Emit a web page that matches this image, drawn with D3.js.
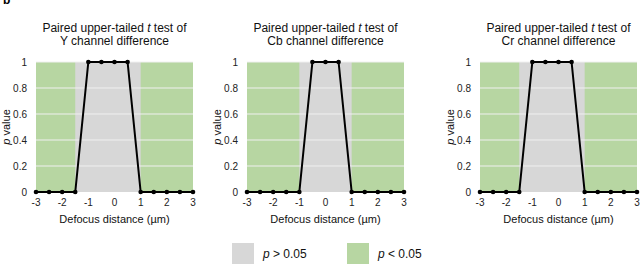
<!DOCTYPE html>
<html><head><meta charset="utf-8">
<script src="https://cdn.jsdelivr.net/npm/d3@7"></script>
<style>body{margin:0;background:#fff}svg{display:block;font-family:"Liberation Sans",Arial,sans-serif}</style>
</head><body><svg id="c" width="640" height="265"></svg>
<script>
const xs = [-3,-2.5,-2,-1.5,-1,-0.5,0,0.5,1,1.5,2,2.5,3];
const yVals = [0,0,0,0,1,1,1,1,0,0,0,0,0];
const cbVals = [0,0,0,0,0,1,1,1,0,0,0,0,0];
const crVals = [0,0,0,0,1,1,1,1,0,0,0,0,0];
const greenLeft = [-1.5,-1,-1.5];   // green (p<0.05) from -3 up to this value
const greenRight = [1,1,1];         // green from this value up to 3
const channels = ["Y","Cb","Cr"];
const xTicks = [-3,-2,-1,0,1,2,3];
const yTicks = [0,0.2,0.4,0.6,0.8,1];
const legendLabels = ["> 0.05","< 0.05"];

const series = [yVals,cbVals,crVals];
const GRAY="#d7d7d7", GREEN="#b7d6a2";
const svg = d3.select("#c");
const pLeft = [36,247,480], pWidth = 157, pTop = 62, pBottom = 192;

svg.append("text").attr("x",3).attr("y",4).attr("font-weight","bold").attr("font-size",12).text("b");

series.forEach((vals,i)=>{
  const x = d3.scaleLinear().domain([-3,3]).range([pLeft[i],pLeft[i]+pWidth]);
  const y = d3.scaleLinear().domain([0,1]).range([pBottom,pTop]);
  const g = svg.append("g");
  g.append("rect").attr("x",x(-3)).attr("y",y(1)).attr("width",x(3)-x(-3)).attr("height",y(0)-y(1)).attr("fill",GRAY);
  g.append("rect").attr("x",x(-3)).attr("y",y(1)).attr("width",x(greenLeft[i])-x(-3)).attr("height",y(0)-y(1)).attr("fill",GREEN);
  g.append("rect").attr("x",x(greenRight[i])).attr("y",y(1)).attr("width",x(3)-x(greenRight[i])).attr("height",y(0)-y(1)).attr("fill",GREEN);
  g.selectAll(".grid").data(yTicks.filter(t=>t>0)).join("line")
    .attr("x1",x(-3)).attr("x2",x(3)).attr("y1",d=>y(d)).attr("y2",d=>y(d))
    .attr("stroke","#f0f0f0").attr("stroke-width",1);
  g.selectAll(".yl").data(yTicks).join("text")
    .attr("x",pLeft[i]-9).attr("y",d=>y(d)).attr("dy","0.35em").attr("text-anchor","end")
    .attr("font-size",10).attr("fill","#222").text(d=>d3.format("~g")(d));
  g.selectAll(".xl").data(xTicks).join("text")
    .attr("x",d=>x(d)).attr("y",pBottom+14).attr("text-anchor","middle")
    .attr("font-size",10).attr("fill","#222").text(d=>d);
  const data = xs.map((d,k)=>[d,vals[k]]);
  g.append("path").datum(data).attr("fill","none").attr("stroke","#000").attr("stroke-width",2)
    .attr("d",d3.line().x(d=>x(d[0])).y(d=>y(d[1])));
  g.selectAll(".pt").data(data).join("circle").attr("cx",d=>x(d[0])).attr("cy",d=>y(d[1])).attr("r",2.3).attr("fill","#000");
  const cx = pLeft[i]+pWidth/2;
  const t1 = g.append("text").attr("x",cx).attr("y",32).attr("text-anchor","middle").attr("font-size",12).attr("fill","#111");
  t1.append("tspan").text("Paired upper-tailed ");
  t1.append("tspan").attr("font-style","italic").text("t");
  t1.append("tspan").text(" test of");
  g.append("text").attr("x",cx).attr("y",45).attr("text-anchor","middle").attr("font-size",12).attr("fill","#111")
    .text(channels[i]+" channel difference");
  g.append("text").attr("x",cx).attr("y",223).attr("text-anchor","middle").attr("font-size",11).attr("fill","#111").text("Defocus distance (µm)");
  const yl = g.append("text").attr("transform",`translate(${pLeft[i]-26},${(pTop+pBottom)/2}) rotate(-90)`)
    .attr("text-anchor","middle").attr("font-size",11).attr("fill","#111");
  yl.append("tspan").attr("font-style","italic").text("p");
  yl.append("tspan").text(" value");
});

const lx = [232,347], cols=[GRAY,GREEN];
lx.forEach((xx,i)=>{
  svg.append("rect").attr("x",xx).attr("y",243).attr("width",22).attr("height",21).attr("fill",cols[i]);
  const t = svg.append("text").attr("x",xx+31).attr("y",258).attr("font-size",12).attr("fill","#111");
  t.append("tspan").attr("font-style","italic").text("p");
  t.append("tspan").text(" "+legendLabels[i]);
});
</script></body></html>
